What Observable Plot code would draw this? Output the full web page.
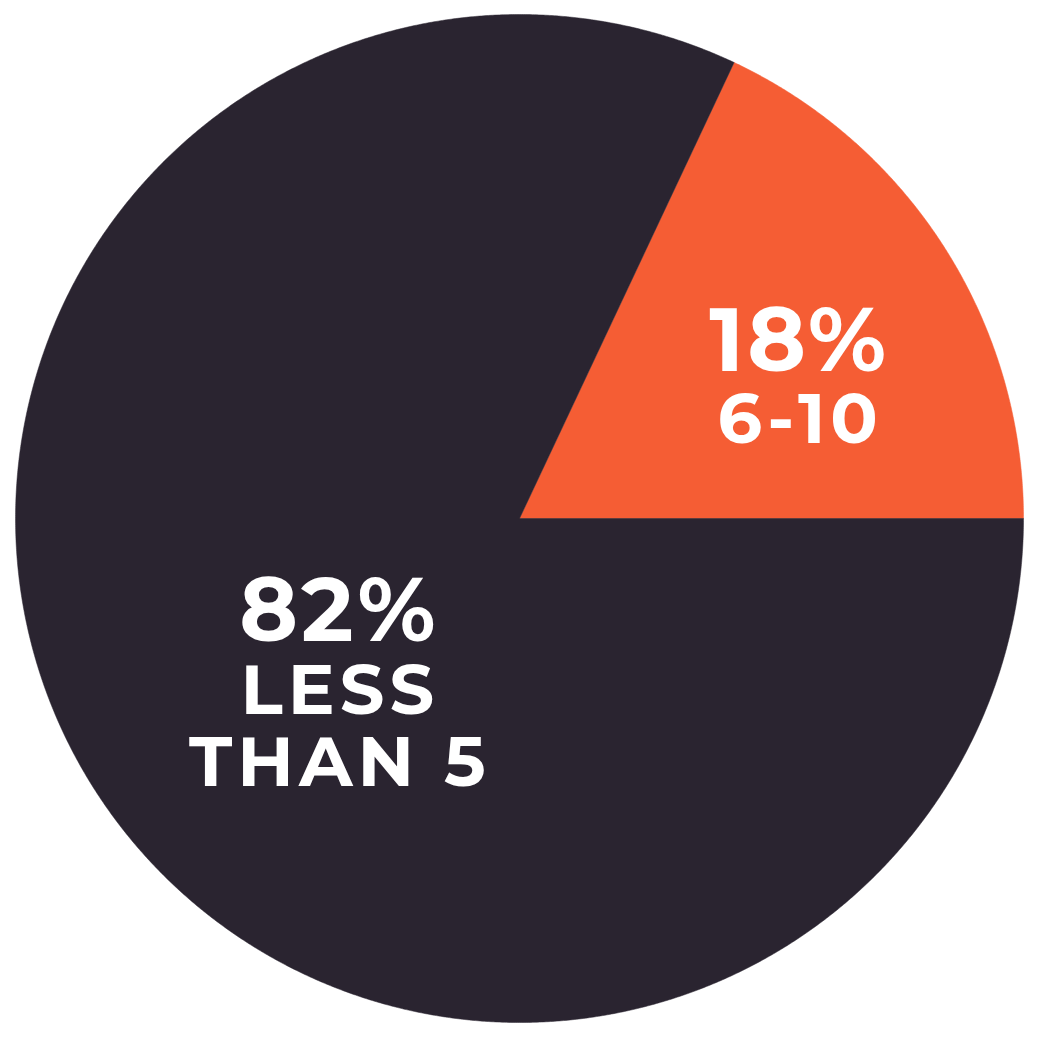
<!DOCTYPE html>
<html>
<head>
<meta charset="utf-8">
<script src="https://cdn.jsdelivr.net/npm/d3@7"></script>
<script src="https://cdn.jsdelivr.net/npm/@observablehq/plot@0.6"></script>
<style>
  html, body { margin: 0; padding: 0; background: #ffffff; }
  #chart svg { display: block; }
  #chart g[font-size="89"], #chart g[font-size="89"] text { letter-spacing: 3px; }
  #chart g[font-size="70"], #chart g[font-size="70"] text, #chart g[font-size="70"] tspan { letter-spacing: 5px; }
</style>
</head>
<body>
<div id="chart"></div>
<script>
// ---- data ----
const categories = ["6-10", "LESS\nTHAN 5"];
const percents = [18, 82];
const percentLabels = ["18%", "82%"];
const colors = ["#f55d34", "#2a2430"];
// label placement (radius fraction of pie, angle offset from slice middle, degrees)
const labelRadius = [0.625, 0.436];
const labelAngleOffset = [-4.4, 1.6];

// ---- build slices (angles counter-clockwise from east, starting at 0) ----
const total = d3.sum(percents);
const slices = [];
const labels = [];
let start = 0;
percents.forEach((v, i) => {
  const sweep = (v / total) * 360;
  const end = start + sweep;
  const pts = [{x: 0, y: 0, k: categories[i]}];
  const steps = Math.max(8, Math.ceil(sweep * 4));
  for (let s = 0; s <= steps; s++) {
    const a = (start + (sweep * s) / steps) * Math.PI / 180;
    pts.push({x: Math.cos(a), y: Math.sin(a), k: categories[i]});
  }
  pts.push({x: 0, y: 0, k: categories[i]});
  slices.push(...pts);
  const mid = (start + sweep / 2 + labelAngleOffset[i]) * Math.PI / 180;
  labels.push({
    x: labelRadius[i] * Math.cos(mid),
    y: labelRadius[i] * Math.sin(mid),
    pct: percentLabels[i],
    cat: categories[i],
    color: colors[i]
  });
  start = end;
});

const font = "Montserrat, 'DejaVu Sans', sans-serif";

const chart = Plot.plot({
  width: 1040,
  height: 1040,
  margin: 0,
  x: {domain: [-1.0298, 1.0337], axis: null},
  y: {domain: [-1.0357, 1.0278], axis: null},
  color: {domain: categories, range: colors},
  style: {background: "#ffffff"},
  marks: [
    Plot.line(slices, {x: "x", y: "y", z: "k", fill: "k", stroke: "k", strokeWidth: 0.5, curve: "linear"}),
    Plot.text(labels, {
      x: "x", y: "y", text: "pct",
      fill: "white", fontSize: 89, fontWeight: "bold",
      fontFamily: font, lineAnchor: "bottom", textAnchor: "middle", dx: 1.5
    }),
    Plot.text(labels, {
      x: "x", y: "y", text: "cat",
      fill: "white", fontSize: 70, fontWeight: "bold",
      fontFamily: font, lineAnchor: "top", textAnchor: "middle",
      lineHeight: 1.03, dy: 21, dx: 2.5
    })
  ]
});
document.getElementById("chart").appendChild(chart);
</script>
</body>
</html>
